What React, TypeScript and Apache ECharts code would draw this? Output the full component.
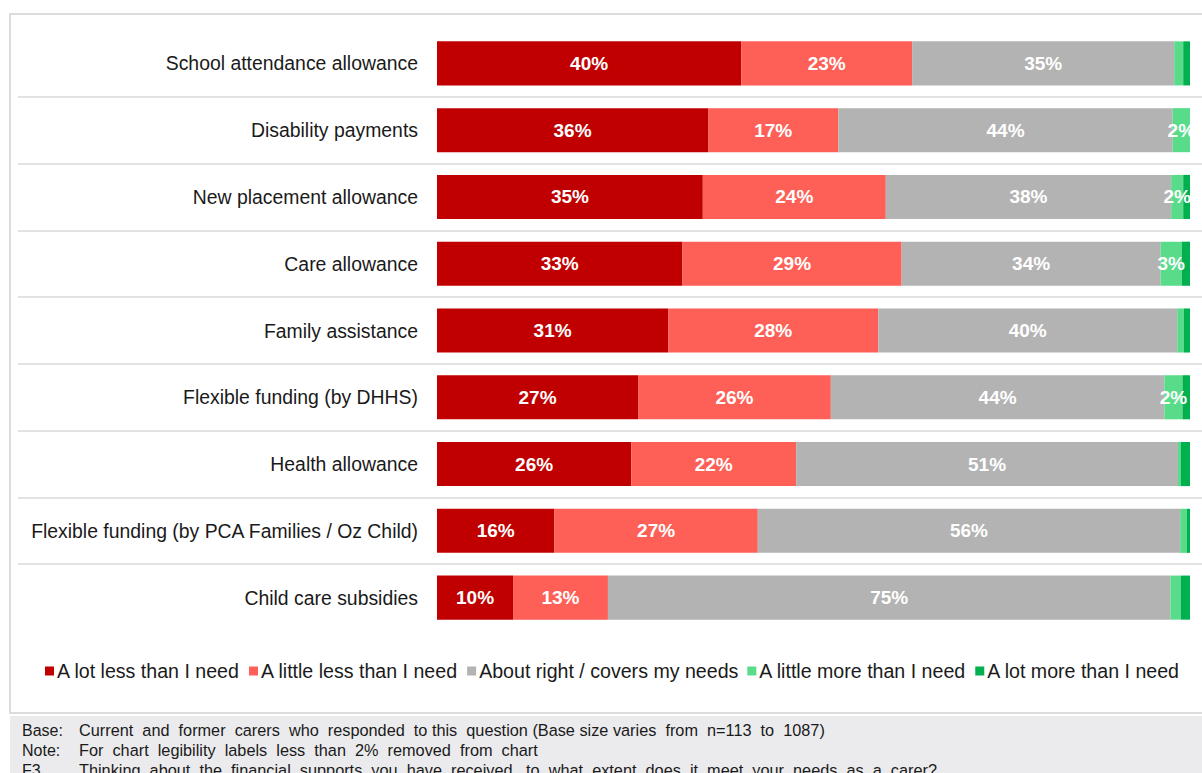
import React, { useEffect, useRef } from "react";
import * as echarts from "echarts";

const categories = [
  "School attendance allowance",
  "Disability payments",
  "New placement allowance",
  "Care allowance",
  "Family assistance",
  "Flexible funding (by DHHS)",
  "Health allowance",
  "Flexible funding (by PCA Families / Oz Child)",
  "Child care subsidies",
];

const seriesNames = [
  "A lot less than I need",
  "A little less than I need",
  "About right / covers my needs",
  "A little more than I need",
  "A lot more than I need",
];

const lotLess = [40.4, 36.0, 35.3, 32.6, 30.7, 26.7, 25.8, 15.6, 10.1];
const littleLess = [22.7, 17.3, 24.3, 29.1, 27.9, 25.6, 21.9, 27.0, 12.6];
const aboutRight = [34.8, 44.4, 37.9, 34.4, 39.7, 44.3, 50.7, 56.1, 74.7];
const littleMore = [1.2, 2.3, 1.6, 2.8, 0.9, 2.4, 0.4, 0.9, 1.4];
const lotMore = [0.9, 0.0, 0.9, 1.1, 0.9, 1.0, 1.2, 0.4, 1.2];

const colors = ["#c00000", "#fe5f57", "#b3b3b3", "#58dc8a", "#00b050"];

const footnotes = [
  ["Base:", "Current  and  former  carers  who  responded  to this  question (Base size varies  from  n=113  to  1087)"],
  ["Note:", "For  chart  legibility  labels  less  than  2%  removed  from  chart"],
  ["F3", "Thinking  about  the  financial  supports  you  have  received,  to  what  extent  does  it  meet  your  needs  as  a  carer?"],
];

const FONT = "'Liberation Sans', Arial, sans-serif";

export default function App() {
  const ref = useRef<HTMLDivElement>(null);

  useEffect(() => {
    if (!ref.current) return;
    const chart = echarts.init(ref.current, undefined, { renderer: "svg" });
    const dataSets = [lotLess, littleLess, aboutRight, littleMore, lotMore];

    const series: any[] = dataSets.map((d, i) => ({
      name: seriesNames[i],
      type: "bar",
      stack: "total",
      xAxisIndex: 0,
      yAxisIndex: 0,
      barWidth: "66%",
      itemStyle: { color: colors[i] },
      label: {
        show: true,
        position: "inside",
        color: "#ffffff",
        fontFamily: FONT,
        fontWeight: "bold",
        fontSize: 19,
        formatter: (p: any) => (Math.round(p.value) >= 2 ? Math.round(p.value) + "%" : ""),
      },
      data: d,
    }));

    const graphics: any[] = [
      {
        type: "rect",
        shape: { x: 10, y: 14, width: 1200, height: 699 },
        style: { fill: "none", stroke: "#dcdcdc", lineWidth: 2 },
        silent: true,
      },
      {
        type: "rect",
        shape: { x: 10, y: 716, width: 1192, height: 60 },
        style: { fill: "#ebebed" },
        silent: true,
      },
    ];
    footnotes.forEach((f, i) => {
      const y = 730 + i * 20;
      graphics.push({
        type: "text",
        x: 22,
        y,
        style: { text: f[0], fill: "#1a1a1a", font: `16px ${FONT}`, verticalAlign: "middle" },
      });
      graphics.push({
        type: "text",
        x: 79,
        y,
        style: { text: f[1], fill: "#1a1a1a", font: `16.3px ${FONT}`, verticalAlign: "middle" },
      });
    });

    chart.setOption({
      animation: false,
      backgroundColor: "#ffffff",
      textStyle: { fontFamily: FONT },
      legend: {
        left: 40,
        top: 656,
        icon: "rect",
        itemWidth: 9,
        itemHeight: 9,
        itemGap: 9,
        textStyle: { fontSize: 19.6, color: "#1a1a1a", fontFamily: FONT, padding: [0, 0, 0, -2] },
        data: seriesNames,
      },
      grid: [
        { left: 437, right: 12, top: 30, height: 601 },
        { left: 18, right: 0, top: 30, height: 601 },
      ],
      xAxis: [
        { type: "value", gridIndex: 0, min: 0, max: 100, show: false },
        { type: "value", gridIndex: 1, min: 0, max: 100, show: false },
      ],
      yAxis: [
        {
          type: "category",
          gridIndex: 0,
          inverse: true,
          data: categories,
          axisLine: { show: false },
          axisTick: { show: false },
          splitLine: { show: false },
          axisLabel: { margin: 19, fontSize: 19.4, color: "#1a1a1a", fontFamily: FONT },
        },
        {
          type: "category",
          gridIndex: 1,
          inverse: true,
          data: categories,
          axisLine: { show: false },
          axisTick: { show: false },
          axisLabel: { show: false },
          splitLine: {
            show: true,
            showMinLine: false,
            showMaxLine: false,
            lineStyle: { color: "#e2e2e4", width: 2 },
          },
        },
      ],
      graphic: graphics,
      series,
    });
    return () => chart.dispose();
  }, []);

  return (
    <div
      ref={ref}
      style={{ position: "fixed", left: 0, top: 0, width: 1202, height: 773 }}
    />
  );
}
